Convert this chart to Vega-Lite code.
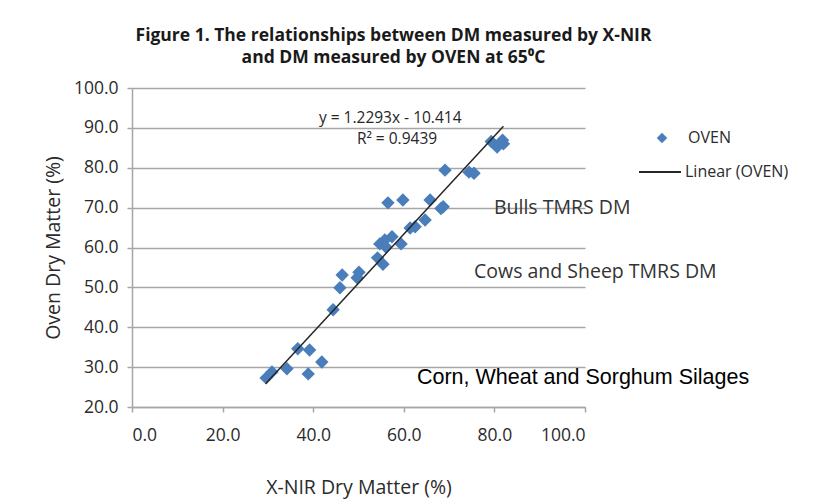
{
  "$schema": "https://vega.github.io/schema/vega-lite/v6.json",
  "width": 453,
  "height": 319,
  "autosize": {"type": "none"},
  "padding": {"left": 132, "top": 88, "right": 244, "bottom": 97},
  "background": "white",
  "title": {
    "text": ["Figure 1. The relationships between DM measured by X-NIR", "and DM measured by OVEN at 65⁰C"],
    "anchor": "middle",
    "frame": "group",
    "dx": 35,
    "offset": 13,
    "font": "Open Sans",
    "fontSize": 17.5,
    "fontWeight": "bold",
    "color": "#1a1a1a",
    "lineHeight": 22
  },
  "datasets": {
    "points": [
      {"xnir": 29.6, "oven": 27.3, "series": "OVEN"},
      {"xnir": 30.9, "oven": 28.8, "series": "OVEN"},
      {"xnir": 34.2, "oven": 29.6, "series": "OVEN"},
      {"xnir": 36.6, "oven": 34.6, "series": "OVEN"},
      {"xnir": 39.2, "oven": 34.3, "series": "OVEN"},
      {"xnir": 38.9, "oven": 28.3, "series": "OVEN"},
      {"xnir": 41.9, "oven": 31.3, "series": "OVEN"},
      {"xnir": 44.4, "oven": 44.4, "series": "OVEN"},
      {"xnir": 45.9, "oven": 49.9, "series": "OVEN"},
      {"xnir": 46.4, "oven": 53.1, "series": "OVEN"},
      {"xnir": 49.7, "oven": 52.4, "series": "OVEN"},
      {"xnir": 50.1, "oven": 53.8, "series": "OVEN"},
      {"xnir": 54.2, "oven": 57.4, "series": "OVEN"},
      {"xnir": 55.4, "oven": 55.8, "series": "OVEN"},
      {"xnir": 54.7, "oven": 60.9, "series": "OVEN"},
      {"xnir": 56.0, "oven": 60.2, "series": "OVEN"},
      {"xnir": 55.8, "oven": 61.9, "series": "OVEN"},
      {"xnir": 57.4, "oven": 62.7, "series": "OVEN"},
      {"xnir": 59.4, "oven": 60.9, "series": "OVEN"},
      {"xnir": 61.4, "oven": 64.9, "series": "OVEN"},
      {"xnir": 62.5, "oven": 65.2, "series": "OVEN"},
      {"xnir": 64.7, "oven": 66.9, "series": "OVEN"},
      {"xnir": 56.5, "oven": 71.2, "series": "OVEN"},
      {"xnir": 59.8, "oven": 71.9, "series": "OVEN"},
      {"xnir": 65.8, "oven": 71.9, "series": "OVEN"},
      {"xnir": 68.7, "oven": 70.2, "series": "OVEN"},
      {"xnir": 68.2, "oven": 69.8, "series": "OVEN"},
      {"xnir": 69.1, "oven": 79.4, "series": "OVEN"},
      {"xnir": 74.4, "oven": 78.9, "series": "OVEN"},
      {"xnir": 75.5, "oven": 78.6, "series": "OVEN"},
      {"xnir": 79.3, "oven": 86.6, "series": "OVEN"},
      {"xnir": 80.6, "oven": 85.2, "series": "OVEN"},
      {"xnir": 81.8, "oven": 86.9, "series": "OVEN"},
      {"xnir": 82.0, "oven": 86.0, "series": "OVEN"}
    ],
    "trend": [
      {"xnir": 29.5, "oven": 25.85, "series": "Linear (OVEN)"},
      {"xnir": 82.0, "oven": 90.39, "series": "Linear (OVEN)"}
    ],
    "calibri": [
      {"xnir": 57.0, "oven": 92.4, "label": "y = 1.2293x - 10.414"},
      {"xnir": 58.5, "oven": 87.3, "label": "R² = 0.9439"}
    ],
    "groups": [
      {"xnir": 79.9, "oven": 69.9, "label": "Bulls TMRS DM"},
      {"xnir": 75.5, "oven": 53.9, "label": "Cows and Sheep TMRS DM"}
    ],
    "silage": [
      {"xnir": 62.9, "oven": 27.3, "label": "Corn, Wheat and Sorghum Silages"}
    ]
  },
  "encoding": {
    "x": {
      "field": "xnir",
      "type": "quantitative",
      "scale": {"domain": [0, 100], "nice": false, "zero": false},
      "axis": {
        "title": "X-NIR Dry Matter (%)",
        "values": [0, 20, 40, 60, 80, 100],
        "format": ".1f",
        "grid": false,
        "domainColor": "#a6a6a6",
        "domainWidth": 1.5,
        "tickColor": "#a6a6a6",
        "tickWidth": 1.5,
        "tickSize": 5,
        "labelPadding": 14,
        "labelFont": "Open Sans",
        "labelFontSize": 17.5,
        "labelColor": "#2b2b2b",
        "titleFont": "Open Sans",
        "titleFontSize": 19.5,
        "titleFontWeight": "normal",
        "titleColor": "#2b2b2b",
        "titlePadding": 35
      }
    },
    "y": {
      "field": "oven",
      "type": "quantitative",
      "scale": {"domain": [20, 100], "nice": false, "zero": false},
      "axis": {
        "title": "Oven Dry Matter (%)",
        "values": [20, 30, 40, 50, 60, 70, 80, 90, 100],
        "format": ".1f",
        "grid": true,
        "gridColor": "#a6a6a6",
        "gridWidth": 1.5,
        "domainColor": "#a6a6a6",
        "domainWidth": 1.5,
        "tickColor": "#a6a6a6",
        "tickWidth": 1.5,
        "tickSize": 5,
        "labelPadding": 9,
        "labelFont": "Open Sans",
        "labelFontSize": 17.5,
        "labelColor": "#2b2b2b",
        "titleFont": "Open Sans",
        "titleFontSize": 19.5,
        "titleFontWeight": "normal",
        "titleColor": "#2b2b2b",
        "titlePadding": 10
      }
    }
  },
  "layer": [
    {
      "data": {"name": "points"},
      "mark": {"type": "point", "shape": "diamond", "filled": true, "size": 180, "opacity": 1},
      "encoding": {
        "color": {
          "field": "series",
          "type": "nominal",
          "scale": {"domain": ["OVEN"], "range": ["#4a7ebb"]},
          "legend": {
            "title": null,
            "orient": "none",
            "legendX": 522,
            "legendY": 42,
            "symbolSize": 110,
            "symbolType": "diamond",
            "labelOffset": 18,
            "labelFont": "Open Sans",
            "labelFontSize": 16,
            "labelColor": "#2b2b2b"
          }
        }
      }
    },
    {
      "data": {"name": "trend"},
      "mark": {"type": "line", "strokeWidth": 1.5},
      "encoding": {
        "color": {
          "field": "series",
          "type": "nominal",
          "scale": {"domain": ["Linear (OVEN)"], "range": ["#262626"]},
          "legend": {
            "title": null,
            "orient": "none",
            "legendX": 506,
            "legendY": 62,
            "symbolSize": 1764,
            "symbolType": "stroke",
            "symbolStrokeWidth": 2,
            "labelOffset": 3,
            "labelFont": "Open Sans",
            "labelFontSize": 16,
            "labelColor": "#2b2b2b"
          }
        }
      }
    },
    {
      "data": {"name": "calibri"},
      "mark": {"type": "text", "align": "center", "baseline": "middle", "font": "Open Sans", "fontSize": 15.5, "color": "#262626"},
      "encoding": {"text": {"field": "label"}}
    },
    {
      "data": {"name": "groups"},
      "mark": {"type": "text", "align": "left", "baseline": "middle", "font": "Open Sans", "fontSize": 19.5, "color": "#333333"},
      "encoding": {"text": {"field": "label"}}
    },
    {
      "data": {"name": "silage"},
      "mark": {"type": "text", "align": "left", "baseline": "middle", "font": "Liberation Sans", "fontSize": 21.5, "color": "#000000"},
      "encoding": {"text": {"field": "label"}}
    }
  ],
  "resolve": {"scale": {"color": "independent"}, "legend": {"color": "independent"}},
  "config": {
    "view": {"stroke": null}
  }
}
